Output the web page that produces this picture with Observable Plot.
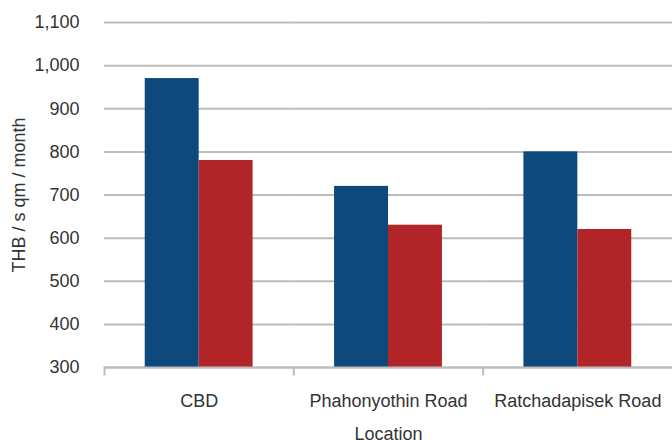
<!DOCTYPE html>
<html>
<head>
<meta charset="utf-8">
<script src="https://cdn.jsdelivr.net/npm/d3@7"></script>
<script src="https://cdn.jsdelivr.net/npm/@observablehq/plot@0.6"></script>
<style>
  html, body { margin: 0; padding: 0; background: #fff; }
</style>
</head>
<body>
<div id="chart"></div>
<script>
const categories = ["CBD", "Phahonyothin Road", "Ratchadapisek Road"];
const seriesNames = ["Series 1", "Series 2"];
const series1 = [970, 720, 800];
const series2 = [780, 630, 620];
const yTicks = [300, 400, 500, 600, 700, 800, 900, 1000, 1100];
const seriesColors = ["#0e497e", "#b12427"];

const data = categories.flatMap((c, i) => [
  {location: c, series: seriesNames[0], value: series1[i]},
  {location: c, series: seriesNames[1], value: series2[i]}
]);

const gridColor = "#bcbcbf";

const chart = Plot.plot({
  width: 672,
  height: 440,
  marginLeft: 104,
  marginRight: 0,
  marginTop: 22,
  marginBottom: 73,
  style: {fontFamily: "'Liberation Sans', Arial, sans-serif", fontSize: "18px", color: "#333", background: "#fff"},
  y: {domain: [yTicks[0], yTicks[yTicks.length - 1]]},
  fx: {domain: categories, padding: 0, round: false},
  x: {domain: seriesNames, paddingInner: 0, paddingOuter: 0.755, round: false, axis: null},
  color: {domain: seriesNames, range: seriesColors},
  marks: [
    Plot.gridY(yTicks, {stroke: gridColor, strokeWidth: 2, strokeOpacity: 1}),
    Plot.barY(data, {fx: "location", x: "series", y: "value", fill: "series", clip: true}),
    Plot.ruleY([yTicks[0]], {stroke: gridColor, strokeWidth: 2}),
    Plot.frame({anchor: "left", insetTop: 345, insetBottom: -7, stroke: gridColor, strokeWidth: 2}),
    Plot.axisY(yTicks, {tickSize: 0, tickPadding: 25, tickFormat: d3.format(","), label: "THB / s qm / month", labelAnchor: "center", labelArrow: "none", labelOffset: 92}),
    Plot.axisFx({anchor: "bottom", tickSize: 0, tickPadding: 27, label: "Location", labelAnchor: "center", labelArrow: "none", labelOffset: 72})
  ]
});
document.getElementById("chart").append(chart);
</script>
</body>
</html>
